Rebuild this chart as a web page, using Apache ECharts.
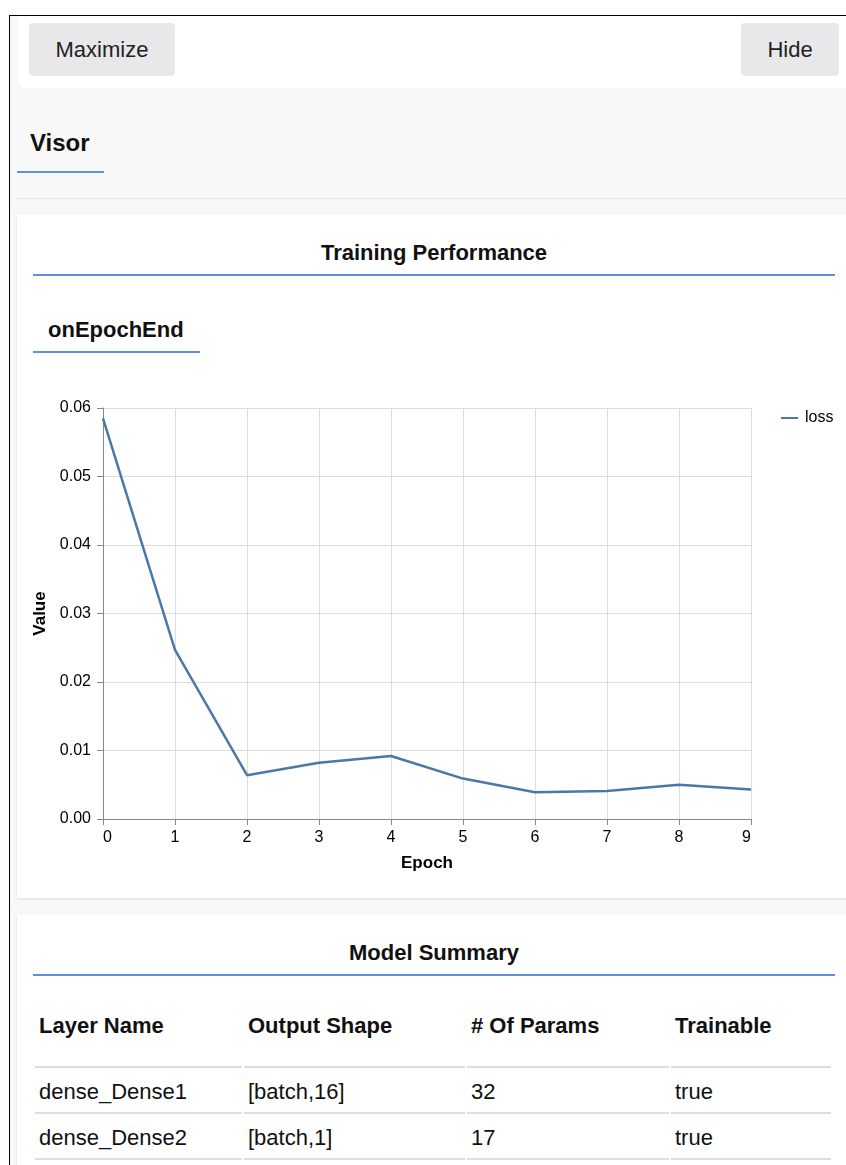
<!DOCTYPE html>
<html>
<head>
<meta charset="utf-8">
<script src="https://cdn.jsdelivr.net/npm/echarts@6/dist/echarts.min.js"></script>
<style>
  html, body { margin: 0; padding: 0; width: 846px; height: 1165px; overflow: hidden; background: #fff;
    font-family: "Liberation Sans", Arial, Helvetica, sans-serif; color: #111; }
  .abs { position: absolute; }
  #frame { left: 9px; top: 15px; width: 900px; height: 1200px; border-left: 1px solid #000; border-top: 1px solid #000; background: #f8f8f8; }
  #topbar { left: 18px; top: 16px; width: 880px; height: 72px; background: #fff; border-radius: 0 0 0 8px; }
  .btn { background: #e8e8ea; border-radius: 4px; font-size: 22px; line-height: 53px; text-align: center; color: #222; top: 23px; height: 53px; }
  .title { font-weight: bold; white-space: nowrap; }
  .blue { background: #5a92e0; height: 2px; }
  .card { background: #fff; box-shadow: 0 1px 3px rgba(0,0,0,0.12); }
  table { border-collapse: separate; border-spacing: 2px 0; }
  td, th { text-align: left; font-size: 22px; padding: 0 4px; }
  th { height: 80px; border-bottom: 2px solid #ddd; }
  td { height: 40px; padding-top: 4px; border-bottom: 2px solid #ddd; }
</style>
</head>
<body>
<div id="frame" class="abs"></div>
<div id="topbar" class="abs"></div>
<div class="abs btn" style="left:29px;width:146px;">Maximize</div>
<div class="abs btn" style="left:741px;width:98px;">Hide</div>

<div class="abs title" style="left:30px;top:129px;font-size:24px;line-height:28px;">Visor</div>
<div class="abs blue" style="left:17px;top:171px;width:87px;"></div>
<div class="abs" style="left:17px;top:198px;width:840px;height:1px;background:#e6e6e6;"></div>

<div class="abs card" style="left:17px;top:214px;width:860px;height:684px;"></div>
<div class="abs title" style="left:0;width:868px;text-align:center;top:240px;font-size:22px;line-height:26px;">Training Performance</div>
<div class="abs blue" style="left:33px;top:274px;width:802px;"></div>
<div class="abs title" style="left:48px;top:317px;font-size:22px;line-height:26px;">onEpochEnd</div>
<div class="abs blue" style="left:33px;top:351px;width:167px;"></div>
<div id="chart" class="abs" style="left:0;top:380px;width:846px;height:510px;"></div>

<div class="abs card" style="left:17px;top:914px;width:860px;height:300px;"></div>
<div class="abs title" style="left:0;width:868px;text-align:center;top:940px;font-size:22px;line-height:26px;">Model Summary</div>
<div class="abs blue" style="left:33px;top:974px;width:802px;"></div>
<table class="abs" style="left:33px;top:986px;">
  <tr><th style="width:199px">Layer Name</th><th style="width:213px">Output Shape</th><th style="width:194px">&#35; Of Params</th><th style="width:152px">Trainable</th></tr>
  <tr><td>dense_Dense1</td><td>[batch,16]</td><td>32</td><td>true</td></tr>
  <tr><td>dense_Dense2</td><td>[batch,1]</td><td>17</td><td>true</td></tr>
</table>

<script>
var epochs = [0, 1, 2, 3, 4, 5, 6, 7, 8, 9];
var loss = [0.0585, 0.0247, 0.0064, 0.0082, 0.0092, 0.0059, 0.0039, 0.0041, 0.0050, 0.0043];

var chart = echarts.init(document.getElementById("chart"));
var font = "Liberation Sans, Arial, Helvetica, sans-serif";

chart.setOption({
  animation: false,
  textStyle: { fontFamily: font },
  legend: {
    left: 776,
    top: 25,
    icon: "rect",
    itemWidth: 17,
    itemHeight: 2,
    itemGap: 10,
    textStyle: { color: "#000", fontSize: 16, fontFamily: font, padding: [0, 0, 0, 2] },
    data: ["loss"]
  },
  grid: { left: 103, right: 95, top: 28, bottom: 71 },
  xAxis: {
    type: "value",
    min: 0,
    max: 9,
    interval: 1,
    name: "Epoch",
    nameLocation: "middle",
    nameGap: 36,
    nameTextStyle: { color: "#000", fontSize: 17, fontWeight: "bold", fontFamily: font },
    axisLine: { lineStyle: { color: "#888" } },
    axisTick: { show: true, length: 6, lineStyle: { color: "#888" } },
    axisLabel: { color: "#000", fontSize: 16, margin: 11, alignMinLabel: "left", alignMaxLabel: "right", fontFamily: font },
    splitLine: { show: true, lineStyle: { color: "#ddd" } }
  },
  yAxis: {
    type: "value",
    min: 0,
    max: 0.06,
    interval: 0.01,
    name: "Value",
    nameLocation: "middle",
    nameGap: 52,
    nameTextStyle: { color: "#000", fontSize: 17, fontWeight: "bold", fontFamily: font },
    axisLine: { show: true, lineStyle: { color: "#888" } },
    axisTick: { show: true, length: 6, lineStyle: { color: "#888" } },
    axisLabel: {
      color: "#000", fontSize: 16, margin: 12, fontFamily: font,
      formatter: function (v) { return v.toFixed(2); }
    },
    splitLine: { show: true, lineStyle: { color: "#ddd" } }
  },
  series: [
    {
      name: "loss",
      type: "line",
      data: epochs.map(function (e, i) { return [e, loss[i]]; }),
      showSymbol: false,
      symbol: "none",
      itemStyle: { color: "#4c78a8" },
      lineStyle: { color: "#4c78a8", width: 2.5 }
    }
  ]
});
</script>
</body>
</html>
